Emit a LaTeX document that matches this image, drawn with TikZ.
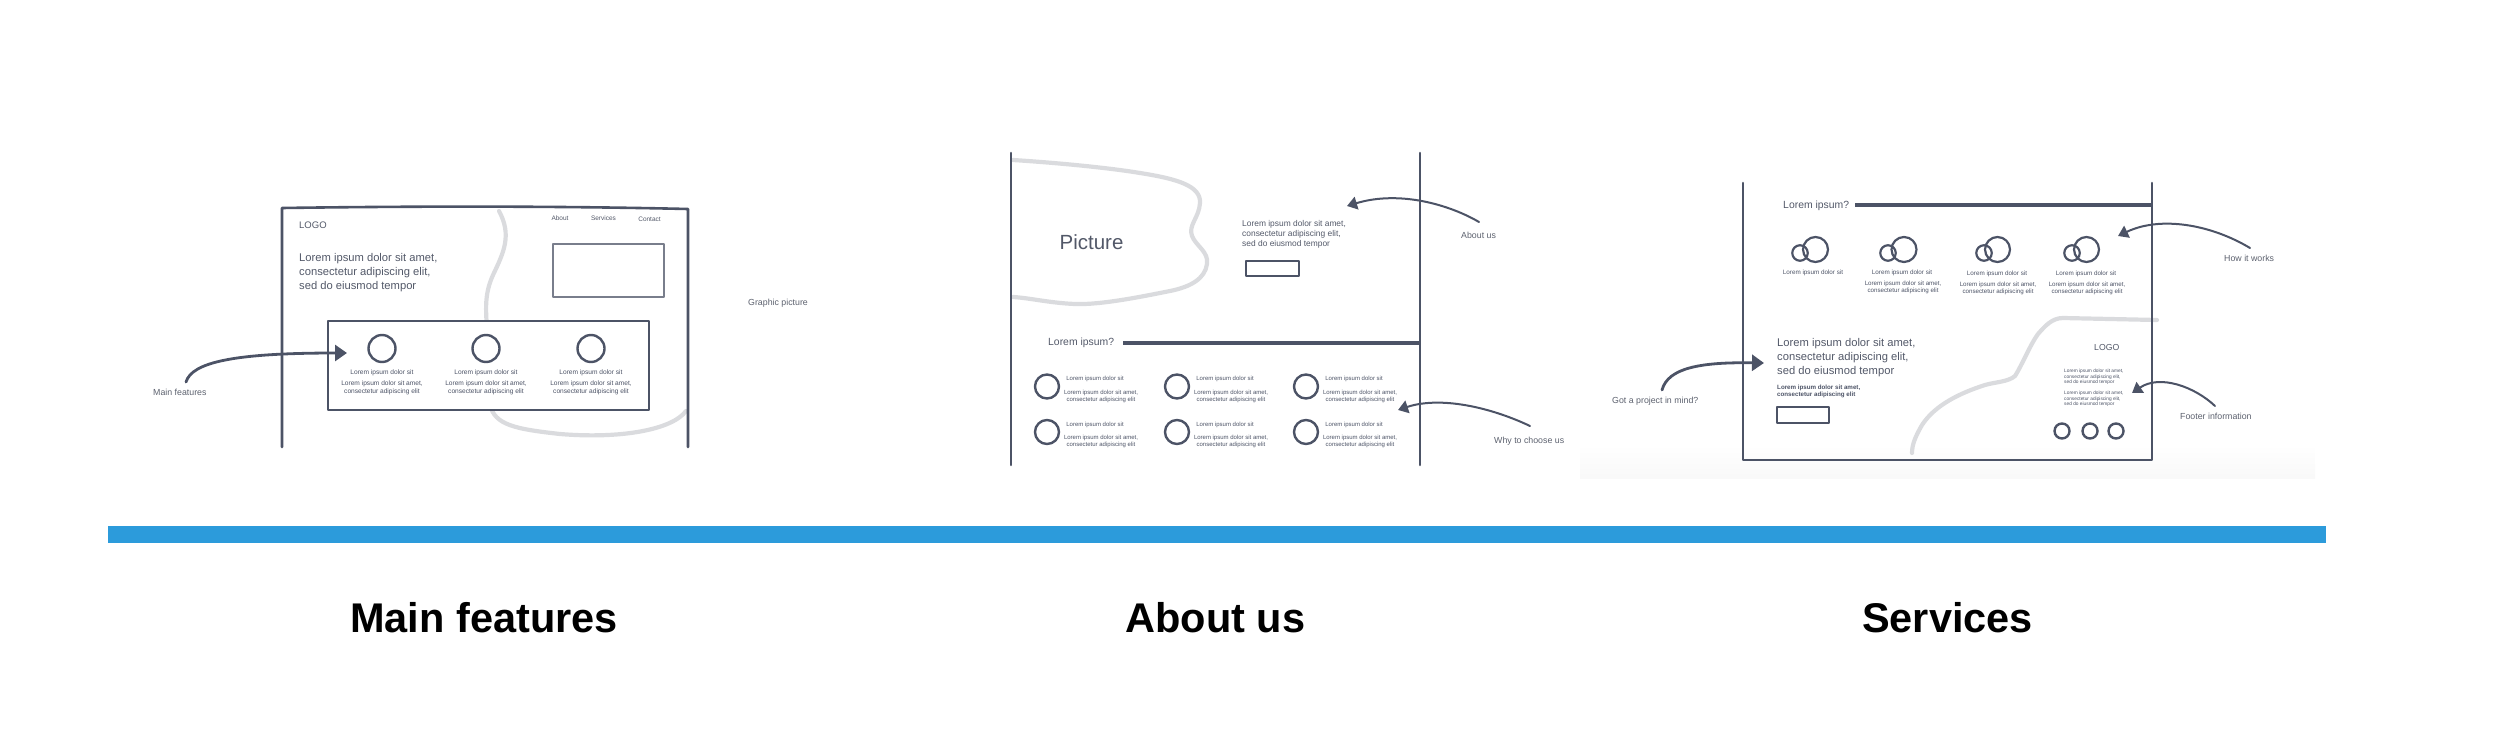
\documentclass[tikz,border=0pt]{standalone}
\usepackage{fontspec}
\setmainfont{Liberation Sans}
\usetikzlibrary{arrows.meta}
\definecolor{slate}{RGB}{76,83,102}
\definecolor{txtc}{RGB}{82,88,104}
\definecolor{lblc}{RGB}{92,97,110}
\definecolor{lightln}{RGB}{218,219,222}
\definecolor{barblue}{RGB}{44,155,219}
\tikzset{
  frame/.style={draw=slate, line width=2.6pt, line cap=round, line join=round},
  thin frame/.style={draw=slate, line width=2.2pt, line join=round},
  bgline/.style={draw=lightln, line width=4.2pt, line cap=round},
  arr/.style={draw=slate, line width=2.8pt, line cap=round, -{Triangle[length=12pt,width=16pt]}},
  sarr/.style={draw=slate, line width=2pt, line cap=round, -{Triangle[length=10pt,width=13pt]}},
  ring/.style={circle, draw=slate, line width=2.4pt, inner sep=0pt},
  wt/.style={inner sep=0pt, text=txtc},
  lbl/.style={inner sep=0pt, text=lblc, font=\fontsize{8.8}{10}\selectfont},
  head/.style={wt, align=left, anchor=north west, font=\fontsize{11.2}{14}\selectfont},
  tiny/.style={wt, text=slate, font=\fontsize{6.6}{8}\selectfont},
  tinyb/.style={wt, text=slate, align=center, anchor=north, font=\fontsize{6.6}{8}\selectfont},
  gtiny/.style={wt, text=slate, font=\fontsize{6}{7}\selectfont},
  gtinyb/.style={wt, text=slate, align=center, anchor=north, font=\fontsize{6}{7}\selectfont},
  title/.style={inner sep=0pt, text=black, anchor=base, font=\fontsize{41.5}{45}\bfseries\selectfont}
}
\begin{document}
\begin{tikzpicture}[x=1pt,y=-1pt]
\useasboundingbox (0,0) rectangle (2500,736);

% ================= LEFT: Main features =================
\draw[bgline] (499,211) .. controls (512,235) and (504,252) .. (493,275)
  .. controls (484,295) and (486,310) .. (487,330) -- (490,405)
  .. controls (495,425) and (515,429) .. (560,434)
  .. controls (620,439) and (672,430) .. (686,411);
\draw[frame] (282,447) -- (282,208) .. controls (420,206) and (560,206) .. (688,209) -- (688,447);
\node[wt, anchor=mid west, font=\fontsize{9.5}{11}\selectfont] (logoA) at (299,226) {LOGO};
\node[wt, anchor=mid, font=\fontsize{6.5}{8}\selectfont] (navA) at (560,218) {About};
\node[wt, anchor=mid, font=\fontsize{6.5}{8}\selectfont] (navS) at (603.5,218) {Services};
\node[wt, anchor=mid, font=\fontsize{6.5}{8}\selectfont] (navC) at (649.5,219) {Contact};
\node[head] (headA) at (299,253) {Lorem ipsum dolor sit amet,\\consectetur adipiscing elit,\\sed do eiusmod tempor};
\draw[thin frame, draw=slate!75] (553,244) rectangle (664,297);
\draw[frame, fill=white] (328,321) rectangle (649,410);
\foreach \x/\n in {382/1,486/2,591/3}{
  \node[ring, minimum size=27pt] (fc\n) at (\x,348.5) {};
  \node[tiny, anchor=mid] (ft\n) at (\x,372) {Lorem ipsum dolor sit};
  \node[tinyb] (fd\n) at (\x,381) {Lorem ipsum dolor sit amet,\\consectetur adipiscing elit};
}
\node[lbl, anchor=mid west] (gp) at (748,303) {Graphic picture};
\node[lbl, anchor=mid west] (mf) at (153,393) {Main features};
\coordinate (mfS) at (186,382);
\coordinate (mfT) at (347,353);
\draw[arr] (mfS) .. controls (192,362) and (235,353) .. (mfT);

% ================= MIDDLE: About us =================
\draw[bgline] (1013,160) .. controls (1060,163) and (1110,168) .. (1140,173)
  .. controls (1178,179) and (1201,186) .. (1200,203)
  .. controls (1199,218) and (1188,225) .. (1192,236)
  .. controls (1196,246) and (1209,252) .. (1207,264)
  .. controls (1205,279) and (1190,287) .. (1170,291)
  .. controls (1140,297) and (1100,305) .. (1075,304)
  .. controls (1050,303) and (1030,298) .. (1013,297);
\draw[frame] (1011,153) -- (1011,465);
\draw[frame] (1420,153) -- (1420,465);
\node[wt, anchor=mid, font=\fontsize{20.5}{24}\selectfont] (pic) at (1091.5,246.5) {Picture};
\node[wt, align=left, anchor=north west, font=\fontsize{8.4}{10}\selectfont] (headB) at (1242,220.5) {Lorem ipsum dolor sit amet,\\consectetur adipiscing elit,\\sed do eiusmod tempor};
\draw[thin frame] (1246,261) rectangle (1299,276);
\node[wt, anchor=mid west, font=\fontsize{10.4}{12}\selectfont] (lqB) at (1048,343) {Lorem ipsum?};
\draw[draw=slate, line width=4pt] (1123,343) -- (1420,343);
\foreach \cx/\n in {1047/1,1177/2,1306/3}{
  \foreach \cy/\r in {386.5/a,432/b}{
    \node[ring, minimum size=24pt] (gc\n\r) at (\cx,\cy) {};
    \node[gtiny, anchor=mid] (gt\n\r) at (\cx+48,\cy-8.5) {Lorem ipsum dolor sit};
    \node[gtinyb] (gd\n\r) at (\cx+54,\cy+3) {Lorem ipsum dolor sit amet,\\consectetur adipiscing elit};
  }
}
\node[lbl, anchor=mid west] (lAbout) at (1461,236) {About us};
\coordinate (abS) at (1479,222);
\coordinate (abT) at (1347,206);
\draw[sarr] (abS) .. controls (1450,205) and (1400,190) .. (abT);
\node[lbl, anchor=mid west] (lWhy) at (1494,441) {Why to choose us};
\coordinate (whS) at (1530,426);
\coordinate (whT) at (1398,410);
\draw[sarr] (whS) .. controls (1490,407) and (1440,396) .. (whT);

% ================= RIGHT: Services =================
\shade[top color=white, bottom color=black!2.5] (1580,445) rectangle (2315,478);
\draw[bgline] (2157,320) -- (2063,318)
  .. controls (2052,318) and (2045,326) .. (2038,334)
  .. controls (2030,345) and (2022,365) .. (2015,376)
  .. controls (2008,382) and (1995,382) .. (1985,385)
  .. controls (1960,393) and (1935,405) .. (1922,425)
  .. controls (1915,437) and (1912,445) .. (1912,453);
\draw[frame] (1743,183) -- (1743,460) -- (2152,460) -- (2152,183);
\node[wt, anchor=mid west, font=\fontsize{10.4}{12}\selectfont] (lqC) at (1783,206) {Lorem ipsum?};
\draw[draw=slate, line width=4.5pt] (1855,205) -- (2152,205);
\foreach \sx/\bx/\n in {1800/1815.5/1,1888/1904/2,1984/1997.5/3,2072/2086.5/4}{
  \node[ring, line width=2.2pt, minimum size=15.5pt] (vs\n) at (\sx,253) {};
  \node[ring, line width=2.2pt, minimum size=25pt] (vb\n) at (\bx,249.5) {};
}
\node[gtiny, font=\fontsize{6.3}{7.5}\selectfont, anchor=mid] (vt1) at (1813,272) {Lorem ipsum dolor sit};
\foreach \tx/\ty/\n in {1902/272/2,1997/273/3,2086/273/4}{
  \node[gtiny, font=\fontsize{6.3}{7.5}\selectfont, anchor=mid] (vt\n) at (\tx,\ty) {Lorem ipsum dolor sit};
  \node[gtinyb, font=\fontsize{6.2}{7.5}\selectfont] (vd\n) at (\tx+1,\ty+8.5) {Lorem ipsum dolor sit amet,\\consectetur adipiscing elit};
}
\node[head] (headC) at (1777,338) {Lorem ipsum dolor sit amet,\\consectetur adipiscing elit,\\sed do eiusmod tempor};
\node[wt, text=slate, align=left, anchor=north west, font=\fontsize{6.2}{7}\bfseries\selectfont] (subC) at (1777,385) {Lorem ipsum dolor sit amet,\\consectetur adipiscing elit};
\draw[thin frame] (1777,407) rectangle (1829,423);
\node[wt, anchor=mid west, font=\fontsize{8.7}{10}\selectfont] (logoC) at (2094,348) {LOGO};
\node[wt, text=slate, align=left, anchor=north west, font=\fontsize{4.8}{5.6}\selectfont] (ftA) at (2064,369) {Lorem ipsum dolor sit amet,\\consectetur adipiscing elit,\\sed do eiusmod tempor};
\node[wt, text=slate, align=left, anchor=north west, font=\fontsize{4.8}{5.6}\selectfont] (ftB) at (2064,391) {Lorem ipsum dolor sit amet,\\consectetur adipiscing elit,\\sed do eiusmod tempor};
\foreach \x/\n in {2062/1,2090/2,2116/3}{
  \node[ring, minimum size=15pt] (sc\n) at (\x,431) {};
}
\node[lbl, anchor=mid west] (lGot) at (1612,401) {Got a project in mind?};
\coordinate (gtS) at (1662,390);
\coordinate (gtT) at (1764,363);
\draw[arr] (gtS) .. controls (1668,368) and (1700,362) .. (gtT);
\node[lbl, anchor=mid west] (lHow) at (2224,259) {How it works};
\coordinate (hwS) at (2250,248);
\coordinate (hwT) at (2118,236);
\draw[sarr] (hwS) .. controls (2210,224) and (2160,216) .. (hwT);
\node[lbl, anchor=mid west] (lFoot) at (2180,417) {Footer information};
\coordinate (foS) at (2215,406);
\coordinate (foT) at (2132,393);
\draw[sarr] (foS) .. controls (2195,387) and (2160,374) .. (foT);

% ================= timeline bar and titles =================
\fill[barblue] (108,526) rectangle (2326,543);
\node[title] (tMain) at (484,632) {Main features};
\node[title] (tAbout) at (1215.5,632) {About us};
\node[title] (tServ) at (1947.5,632) {Services};
\end{tikzpicture}
\end{document}
